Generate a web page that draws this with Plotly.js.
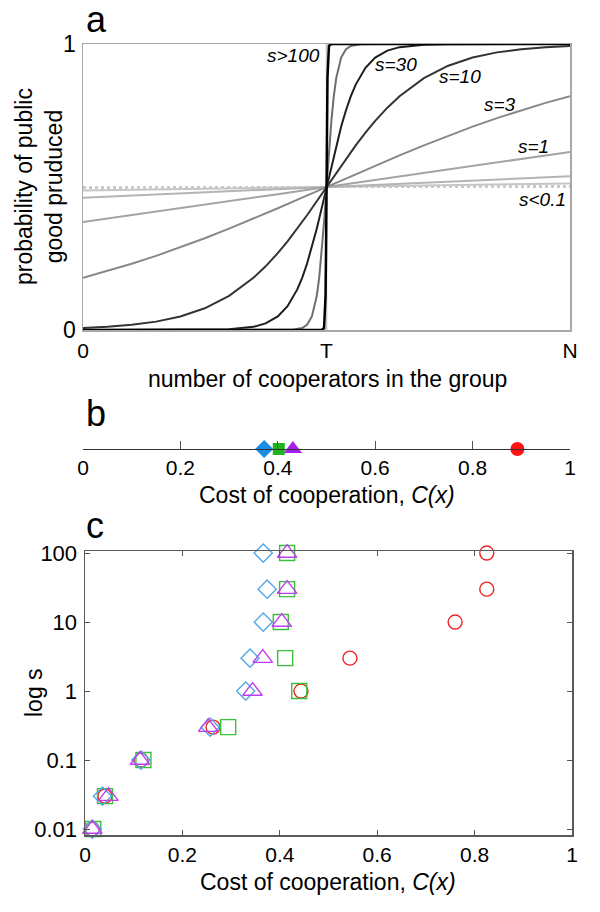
<!DOCTYPE html>
<html>
<head>
<meta charset="utf-8">
<script src="https://cdn.plot.ly/plotly-3.0.1.min.js"></script>
<style>html,body{margin:0;padding:0;background:#fff;}#chart{width:600px;height:912px;}</style>
</head>
<body>
<div id="chart"></div>
<script>
// ---------- Panel a: probability of public good produced ----------
const aTickVals = [0, 0.5, 1];
const aTickText = ['0', 'T', 'N'];

const xS001 = [0, 0.25, 0.5, 0.75, 1];
const yS001 = [0.4988, 0.4994, 0.5, 0.5006, 0.5012];
const xS003 = [0, 0.25, 0.5, 0.75, 1];
const yS003 = [0.4963, 0.4981, 0.5, 0.5019, 0.5037];
const xS01 = [0, 0.25, 0.5, 0.75, 1];
const yS01 = [0.4875, 0.4938, 0.5, 0.5062, 0.5125];
const xS03 = [0, 0.25, 0.5, 0.75, 1];
const yS03 = [0.4626, 0.4813, 0.5, 0.5187, 0.5374];
const xS1 = [0, 0.1, 0.2, 0.3, 0.4, 0.5, 0.6, 0.7, 0.8, 0.9, 1];
const yS1 = [0.3775, 0.4013, 0.4256, 0.4502, 0.4750, 0.5, 0.5250, 0.5498, 0.5744, 0.5987, 0.6225];
const xS3 = [0, 0.05, 0.1, 0.15, 0.2, 0.25, 0.3, 0.35, 0.4, 0.45, 0.5, 0.55, 0.6, 0.65, 0.7, 0.75, 0.8, 0.85, 0.9, 0.95, 1];
const yS3 = [0.1824, 0.2059, 0.2315, 0.2592, 0.2891, 0.3208, 0.3543, 0.3894, 0.4256, 0.4626, 0.5, 0.5374, 0.5744, 0.6106, 0.6457, 0.6792, 0.7109, 0.7408, 0.7685, 0.7941, 0.8176];
const xS10 = [0, 0.05, 0.1, 0.15, 0.2, 0.25, 0.3, 0.35, 0.375, 0.4, 0.42, 0.44, 0.46, 0.48, 0.5, 0.52, 0.54, 0.56, 0.58, 0.6, 0.625, 0.65, 0.7, 0.75, 0.8, 0.85, 0.9, 0.95, 1];
const yS10 = [0.0067, 0.0110, 0.0180, 0.0293, 0.0474, 0.0759, 0.1192, 0.1824, 0.2227, 0.2689, 0.3100, 0.3543, 0.4013, 0.4502, 0.5, 0.5498, 0.5987, 0.6457, 0.6900, 0.7311, 0.7773, 0.8176, 0.8808, 0.9241, 0.9526, 0.9707, 0.9820, 0.9890, 0.9933];
const xS30 = [0, 0.2, 0.25, 0.3, 0.35, 0.375, 0.4, 0.42, 0.44, 0.45, 0.46, 0.47, 0.48, 0.485, 0.49, 0.495, 0.5, 0.505, 0.51, 0.515, 0.52, 0.53, 0.54, 0.55, 0.56, 0.58, 0.6, 0.625, 0.65, 0.7, 0.75, 0.8, 1];
const yS30 = [0.0000, 0.0001, 0.0006, 0.0025, 0.0110, 0.0230, 0.0474, 0.0832, 0.1419, 0.1824, 0.2315, 0.2891, 0.3543, 0.3894, 0.4256, 0.4626, 0.5, 0.5374, 0.5744, 0.6106, 0.6457, 0.7109, 0.7685, 0.8176, 0.8581, 0.9168, 0.9526, 0.9770, 0.9890, 0.9975, 0.9994, 0.9999, 1.0];
const xS100 = [0, 0.4, 0.43, 0.45, 0.46, 0.47, 0.48, 0.485, 0.49, 0.4925, 0.495, 0.4975, 0.5, 0.5025, 0.505, 0.5075, 0.51, 0.515, 0.52, 0.53, 0.54, 0.55, 0.57, 0.6, 1];
const yS100 = [0, 0, 0.0009, 0.0067, 0.0180, 0.0474, 0.1192, 0.1824, 0.2689, 0.3208, 0.3775, 0.4378, 0.5, 0.5622, 0.6225, 0.6792, 0.7311, 0.8176, 0.8808, 0.9526, 0.9820, 0.9933, 0.9991, 1, 1];
const xSbig = [0, 0.49, 0.495, 0.498, 0.499, 0.5, 0.501, 0.502, 0.505, 0.51, 1];
const ySbig = [0, 0, 0.0067, 0.1192, 0.2689, 0.5, 0.7311, 0.8808, 0.9933, 1, 1];
const xSinf = [0, 0.5, 0.5, 1];
const ySinf = [0, 0, 1, 1];

const curveLabels = ['s>100', 's=30', 's=10', 's=3', 's=1', 's<0.1'];

// ---------- Panel b: cost of cooperation ----------
const bCost = [0.372, 0.402, 0.431, 0.892];
const costTickVals = [0, 0.2, 0.4, 0.6, 0.8, 1];
const costTickText = ['0', '0.2', '0.4', '0.6', '0.8', '1'];

// ---------- Panel c: cost vs log s ----------
const sValues = [0.01, 0.03, 0.1, 0.3, 1, 3, 10, 30, 100];
const sTickText = ['0.01', '0.1', '1', '10', '100'];
const sTickVals = [0.01, 0.1, 1, 10, 100];
const costDiamond = [0.015, 0.036, 0.115, 0.257, 0.330, 0.339, 0.366, 0.374, 0.366];
const costSquare = [0.017, 0.041, 0.120, 0.294, 0.440, 0.411, 0.402, 0.415, 0.415];
const costTriangle = [0.015, 0.048, 0.113, 0.253, 0.344, 0.365, 0.404, 0.415, 0.415];
const costCircle = [0.015, 0.041, 0.115, 0.263, 0.4435, 0.544, 0.760, 0.825, 0.825];

// ---------- helpers (layout only) ----------
const W = 600, H = 912;
const px = v => v / W;
const py = v => 1 - v / H;
const FONT = 'Liberation Sans, Arial, Helvetica, sans-serif';

function curve(x, y, color, width, dash) {
  return {x: x, y: y, xaxis: 'x', yaxis: 'y', type: 'scatter', mode: 'lines',
    line: {color: color, width: width, dash: dash || 'solid'}, hoverinfo: 'skip'};
}

const traces = [
  curve(xSinf, ySinf, '#c4c4c4', 1.5),
  curve(xS001, yS001, '#bdbdbd', 2, 'dot'),
  curve(xS003, yS003, '#c8c8c8', 2, 'dot'),
  curve(xS01, yS01, '#c6c6c6', 2),
  curve(xS03, yS03, '#b4b4b4', 2),
  curve(xS1, yS1, '#a4a4a4', 2),
  curve(xS3, yS3, '#888888', 2),
  curve(xS10, yS10, '#333333', 2),
  curve(xS30, yS30, '#1e1e1e', 2),
  curve(xS100, yS100, '#6e6e6e', 2),
  curve(xSbig, ySbig, '#000000', 2.5),
  // panel b
  {x: bCost.slice(0, 1), y: [0], xaxis: 'x2', yaxis: 'y2', type: 'scatter', mode: 'markers', cliponaxis: false,
    marker: {symbol: 'diamond', size: 14, color: '#1a8de6'}},
  {x: bCost.slice(1, 2), y: [0], xaxis: 'x2', yaxis: 'y2', type: 'scatter', mode: 'markers', cliponaxis: false,
    marker: {symbol: 'square', size: 12, color: '#1fb51f'}},
  {x: bCost.slice(2, 3), y: [0], xaxis: 'x2', yaxis: 'y2', type: 'scatter', mode: 'markers', cliponaxis: false,
    marker: {symbol: 'triangle-up', size: 16, color: '#a61ff0'}},
  {x: bCost.slice(3, 4), y: [0], xaxis: 'x2', yaxis: 'y2', type: 'scatter', mode: 'markers', cliponaxis: false,
    marker: {symbol: 'circle', size: 14, color: '#ff1414'}},
  // panel c
  {x: costCircle, y: sValues, xaxis: 'x3', yaxis: 'y3', type: 'scatter', mode: 'markers', cliponaxis: false,
    marker: {symbol: 'circle-open', size: 14, color: '#ee2222', line: {width: 1.4}}},
  {x: costSquare, y: sValues, xaxis: 'x3', yaxis: 'y3', type: 'scatter', mode: 'markers', cliponaxis: false,
    marker: {symbol: 'square-open', size: 15, color: '#3cbf3c', line: {width: 1.4}}},
  {x: costDiamond, y: sValues, xaxis: 'x3', yaxis: 'y3', type: 'scatter', mode: 'markers', cliponaxis: false,
    marker: {symbol: 'diamond-open', size: 14, color: '#55a8e6', line: {width: 1.4}}},
  {x: costTriangle, y: sValues, xaxis: 'x3', yaxis: 'y3', type: 'scatter', mode: 'markers', cliponaxis: false,
    marker: {symbol: 'triangle-up-open', size: 17, color: '#c03cf0', line: {width: 1.4}}}
];

const annFont = {family: FONT, size: 23, color: '#000'};
const labFont = {family: FONT, size: 19, color: '#000', style: 'italic'};
const letterFont = {family: FONT, size: 36, color: '#000'};
const annotations = [
  {text: 'a', x: px(84), y: py(20), xanchor: 'left', yanchor: 'middle', font: letterFont},
  {text: 'b', x: px(84), y: py(413), xanchor: 'left', yanchor: 'middle', font: letterFont},
  {text: 'c', x: px(84), y: py(525), xanchor: 'left', yanchor: 'middle', font: letterFont},
  {text: 'probability of public<br>good pruduced', x: px(39), y: py(187), textangle: -90,
    xanchor: 'center', yanchor: 'middle', font: annFont},
  {text: 'number of cooperators in the group', x: px(327), y: py(379), xanchor: 'center', yanchor: 'middle', font: annFont},
  {text: 'Cost of cooperation, <i>C(x)</i>', x: px(327), y: py(495), xanchor: 'center', yanchor: 'middle', font: annFont},
  {text: 'Cost of cooperation, <i>C(x)</i>', x: px(328), y: py(882), xanchor: 'center', yanchor: 'middle', font: annFont},
  {text: 'log s', x: px(34), y: py(693), textangle: -90, xanchor: 'center', yanchor: 'middle', font: annFont},
  {text: curveLabels[0], x: px(322), y: py(55), xanchor: 'right', yanchor: 'middle', font: labFont},
  {text: curveLabels[1], x: px(396), y: py(64), xanchor: 'center', yanchor: 'middle', font: labFont},
  {text: curveLabels[2], x: px(460), y: py(77), xanchor: 'center', yanchor: 'middle', font: labFont},
  {text: curveLabels[3], x: px(500), y: py(104), xanchor: 'center', yanchor: 'middle', font: labFont},
  {text: curveLabels[4], x: px(533), y: py(146), xanchor: 'center', yanchor: 'middle', font: labFont},
  {text: curveLabels[5], x: px(568), y: py(199), xanchor: 'right', yanchor: 'middle', font: labFont}
].map(a => Object.assign({xref: 'paper', yref: 'paper', showarrow: false}, a));

const layout = {
  width: W, height: H,
  margin: {l: 0, r: 0, t: 0, b: 0},
  paper_bgcolor: '#ffffff', plot_bgcolor: 'rgba(0,0,0,0)',
  showlegend: false,
  font: {family: FONT, size: 21, color: '#000'},
  xaxis: {domain: [px(83), px(570)], range: [0, 1], anchor: 'y', tickvals: aTickVals, ticktext: aTickText,
    ticks: '', showline: true, mirror: true, linecolor: '#a8a8a8', linewidth: 1.5, showgrid: false, zeroline: false,
    tickfont: {size: 21}, ticklabelstandoff: 1},
  yaxis: {domain: [py(330), py(44)], range: [0, 1], anchor: 'x', tickvals: [0, 1], ticktext: ['0', '1'],
    ticks: '', showline: true, mirror: true, linecolor: '#a8a8a8', linewidth: 1.5, showgrid: false, zeroline: false,
    tickfont: {size: 23}, ticklabelstandoff: 1},
  xaxis2: {domain: [px(83), px(570)], range: [0, 1], anchor: 'y2', tickvals: costTickVals, ticktext: costTickText,
    ticks: 'inside', ticklen: 8, tickcolor: '#555', tickwidth: 1, showline: true, linecolor: '#333', linewidth: 1.2,
    showgrid: false, zeroline: false, tickfont: {size: 21}, ticklabelstandoff: 0},
  yaxis2: {domain: [py(449), py(425)], range: [0, 1], anchor: 'x2', visible: false, fixedrange: true},
  xaxis3: {domain: [px(85), px(572)], range: [0, 1], anchor: 'y3', tickvals: costTickVals, ticktext: costTickText,
    ticks: 'inside', ticklen: 5, tickcolor: '#555', showline: true, mirror: 'ticks', linecolor: '#5a5a5a', linewidth: 1.5,
    showgrid: false, zeroline: false, tickfont: {size: 21}, ticklabelstandoff: 0},
  yaxis3: {domain: [py(835), py(551)], type: 'log', range: [-2.086, 2.03], anchor: 'x3', tickvals: sTickVals, ticktext: sTickText,
    ticks: 'inside', ticklen: 5, tickcolor: '#555', showline: true, mirror: 'ticks', linecolor: '#5a5a5a', linewidth: 1.5,
    showgrid: false, zeroline: false, tickfont: {size: 22}, ticklabelstandoff: 2},
  annotations: annotations
};

Plotly.newPlot('chart', traces, layout, {staticPlot: true, displayModeBar: false});
</script>
</body>
</html>
